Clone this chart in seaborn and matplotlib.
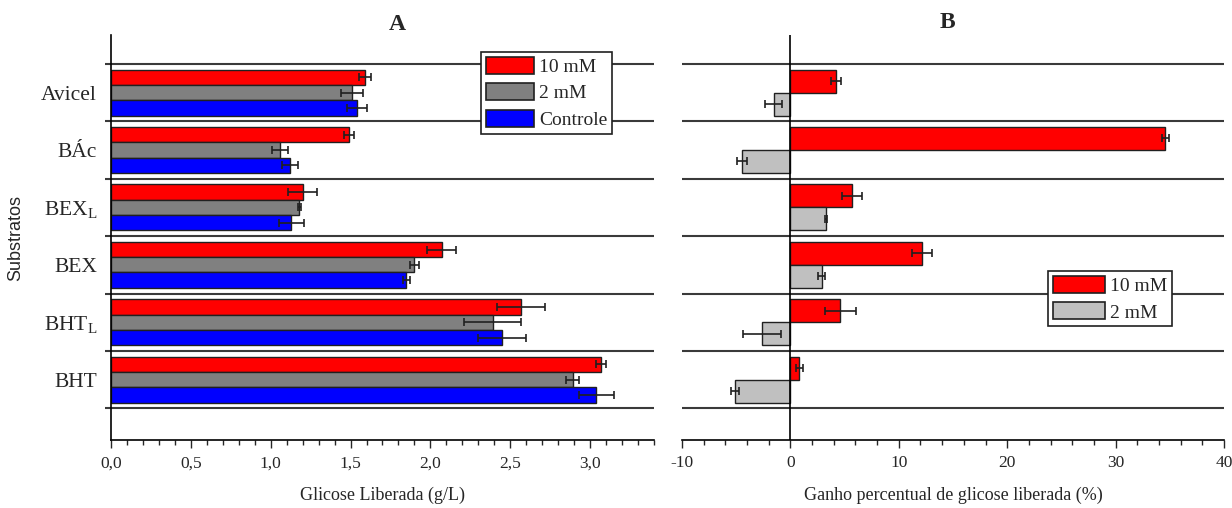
import numpy as np
import pandas as pd
import matplotlib
matplotlib.use("Agg")
import matplotlib.pyplot as plt
from matplotlib.ticker import MultipleLocator
import seaborn as sns

substrates = ["Avicel", "BÁc", "BEX$_\\mathregular{L}$", "BEX", "BHT$_\\mathregular{L}$", "BHT"]

# panel A: glicose liberada (g/L)
conditions_a = ["10 mM", "2 mM", "Controle"]
glucose_10mm = [1.59, 1.49, 1.20, 2.07, 2.57, 3.07]
glucose_10mm_err = [0.04, 0.03, 0.09, 0.09, 0.15, 0.03]
glucose_2mm = [1.51, 1.06, 1.18, 1.90, 2.39, 2.89]
glucose_2mm_err = [0.07, 0.05, 0.01, 0.03, 0.18, 0.04]
glucose_ctrl = [1.54, 1.12, 1.13, 1.85, 2.45, 3.04]
glucose_ctrl_err = [0.06, 0.05, 0.08, 0.02, 0.15, 0.11]
xticks_a = [0.0, 0.5, 1.0, 1.5, 2.0, 2.5, 3.0]
xticklabels_a = ["0,0", "0,5", "1,0", "1,5", "2,0", "2,5", "3,0"]

# panel B: ganho percentual (%)
conditions_b = ["10 mM", "2 mM"]
gain_10mm = [4.2, 34.6, 5.7, 12.1, 4.6, 0.8]
gain_10mm_err = [0.43, 0.32, 0.92, 0.92, 1.45, 0.33]
gain_2mm = [-1.55, -4.5, 3.3, 2.9, -2.6, -5.1]
gain_2mm_err = [0.8, 0.47, 0.1, 0.33, 1.76, 0.38]
xticks_b = [-10, 0, 10, 20, 30, 40]

colors_a = ["#ff0000", "#808080", "#0000ff"]
colors_b = ["#ff0000", "#c0c0c0"]

sns.set_style("ticks")
plt.rcParams["font.family"] = ["Liberation Serif", "DejaVu Sans"]
plt.rcParams["mathtext.fontset"] = "custom"
plt.rcParams["mathtext.rm"] = "Liberation Serif"
plt.rcParams["axes.unicode_minus"] = False

df_a = pd.DataFrame({
    "substrato": substrates * 3,
    "cond": np.repeat(conditions_a, 6),
    "valor": glucose_10mm + glucose_2mm + glucose_ctrl,
})
df_b = pd.DataFrame({
    "substrato": substrates * 2,
    "cond": np.repeat(conditions_b, 6),
    "valor": gain_10mm + gain_2mm,
})

fig = plt.figure(figsize=(12.32, 5.08), dpi=100)
ax_a = fig.add_axes([0.0901, 0.1339, 0.4407, 0.797])
ax_b = fig.add_axes([0.5536, 0.1339, 0.4399, 0.797])

sep_color = "#3a3a3a"


def draw_panel(ax, df, conds, colors, errs, vals):
    sns.barplot(data=df, y="substrato", x="valor", hue="cond", hue_order=conds,
                order=substrates, palette=colors, orient="h", width=0.8,
                saturation=1, edgecolor="#202020", linewidth=1, errorbar=None,
                legend=False, ax=ax)
    for cont, v, e in zip(ax.containers, vals, errs):
        ys = [b.get_y() + b.get_height() / 2 for b in cont]
        ax.errorbar(v, ys, xerr=e, fmt="none", ecolor="#202020",
                    elinewidth=1.2, capsize=3, capthick=1.2, zorder=5)
    for y in np.arange(-0.5, 6, 1):
        ax.axhline(y, color=sep_color, lw=1.5, zorder=1)
    ax.set_ylim(6.05, -1.0)
    ax.tick_params(axis="x", which="major", direction="out", length=6, width=1,
                   labelsize=12.5, pad=5)
    ax.tick_params(axis="x", which="minor", direction="out", length=3.5, width=1)
    for s in ["top", "right"]:
        ax.spines[s].set_visible(False)
    ax.spines["bottom"].set_linewidth(1.2)
    ax.spines["bottom"].set_color("black")
    handles = [plt.Rectangle((0, 0), 1, 1, facecolor=c, edgecolor="#202020", lw=1.2)
               for c in colors]
    return handles


# ---- panel A
h_a = draw_panel(ax_a, df_a, conditions_a, colors_a,
                 [glucose_10mm_err, glucose_2mm_err, glucose_ctrl_err],
                 [glucose_10mm, glucose_2mm, glucose_ctrl])
ax_a.set_xlim(0, 3.4)
ax_a.set_xticks(xticks_a, labels=xticklabels_a)
ax_a.xaxis.set_minor_locator(MultipleLocator(0.1))
ax_a.set_yticks(range(len(substrates)), labels=substrates)
ax_a.set_yticks(np.arange(-0.5, 6, 1), minor=True)
ax_a.tick_params(axis="y", which="major", length=0, labelsize=15.5, pad=10)
ax_a.tick_params(axis="y", which="minor", length=4, width=1.5, color=sep_color)
ax_a.spines["left"].set_linewidth(1.2)
ax_a.spines["left"].set_color("black")
ax_a.set_ylabel("Substratos", family=["Liberation Sans"], fontsize=13, labelpad=12)
ax_a.set_xlabel("Glicose Liberada (g/L)", fontsize=13, labelpad=11)
ax_a.set_title("A", fontsize=17, fontweight="bold", x=0.527, pad=3)
leg_a = ax_a.legend(h_a, conditions_a, loc="upper left", bbox_to_anchor=(0.681, 0.958),
                    fontsize=14, frameon=True, fancybox=False, framealpha=1,
                    edgecolor="#202020", handlelength=2.5, handleheight=0.95,
                    borderpad=0.25, labelspacing=0.38, handletextpad=0.25,
                    borderaxespad=0)
leg_a.get_frame().set_linewidth(1.2)

# ---- panel B
h_b = draw_panel(ax_b, df_b, conditions_b, colors_b,
                 [gain_10mm_err, gain_2mm_err], [gain_10mm, gain_2mm])
ax_b.set_xlim(-10, 40)
ax_b.set_xticks(xticks_b)
ax_b.xaxis.set_minor_locator(MultipleLocator(2))
ax_b.set_yticks([])
ax_b.set_ylabel("")
ax_b.spines["left"].set_visible(False)
ax_b.axvline(0, color="black", lw=1.2, zorder=6)
ax_b.set_xlabel("Ganho percentual de glicose liberada (%)", fontsize=13, labelpad=11)
ax_b.set_title("B", fontsize=17, fontweight="bold", x=0.49, pad=5)
leg_b = ax_b.legend(h_b, conditions_b, loc="upper left", bbox_to_anchor=(0.675, 0.417),
                    fontsize=14, frameon=True, fancybox=False, framealpha=1,
                    edgecolor="#202020", handlelength=2.7, handleheight=0.95,
                    borderpad=0.25, labelspacing=0.38, handletextpad=0.25,
                    borderaxespad=0)
leg_b.get_frame().set_linewidth(1.2)

fig.savefig("out.png", dpi=100)
